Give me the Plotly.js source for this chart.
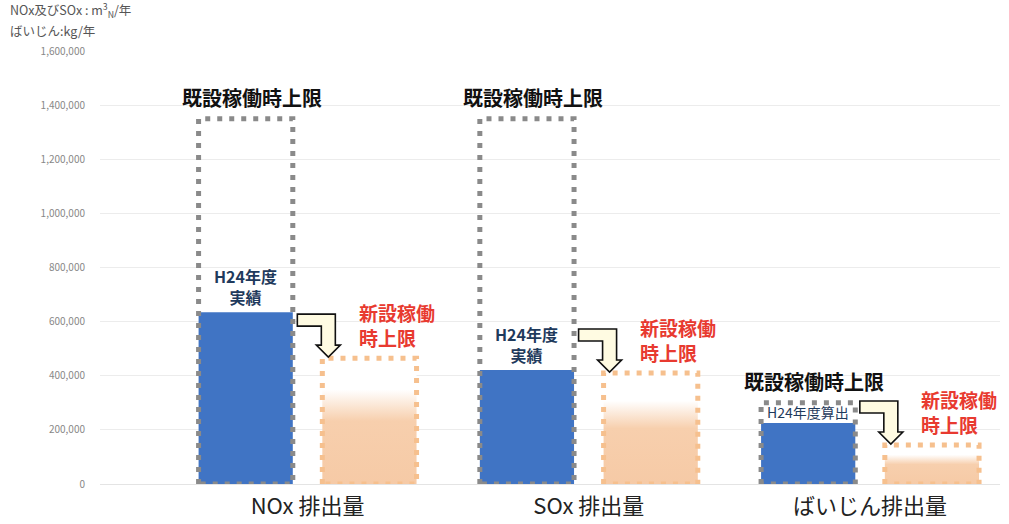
<!DOCTYPE html>
<html>
<head>
<meta charset="utf-8">
<script src="https://cdn.plot.ly/plotly-3.0.1.min.js"></script>
<style>html,body{margin:0;padding:0;background:#fff;}#chart{width:1009px;height:524px;}</style>
</head>
<body>
<div id="chart"></div>
<script>
// ---- data ----
const categories = ['NOx 排出量', 'SOx 排出量', 'ばいじん排出量'];
const existingLimit = [1350000, 1350000, 300000];   // 既設稼働時上限
const actualH24 = [635000, 421000, 225000];          // H24年度実績 / 算出
const newLimit = [465000, 410000, 144000];           // 新設稼働時上限
const existingLabels = ['既設稼働時上限', '既設稼働時上限', '既設稼働時上限'];
const actualLabels = ['H24年度<br>実績', 'H24年度<br>実績', 'H24年度算出'];
const newLabels = ['新設稼働<br>時上限', '新設稼働<br>時上限', '新設稼働<br>時上限'];
const yTickVals = [0, 200000, 400000, 600000, 800000, 1000000, 1200000, 1400000, 1600000];
const unitLines = ['NOx及びSOx : m<sup>3</sup><sub>N</sub>/年', 'ばいじん:kg/年'];

// ---- styling / geometry ----
const FONT = '"Noto Sans CJK JP", "Noto Sans", sans-serif';
const OFF = 0.22, W = 0.335;
const BLUE = '#4074c4', GRAY_DOT = '#8a8a8a', ORANGE_DOT = '#f6c08e', PEACH = '#f6caa6', RED = '#e83a30', NAVY = '#1f3a5c';
const DOTS = '5px,7px';

const idx = categories.map((c, i) => i);
const xA = idx.map(i => i - OFF);
const xB = idx.map(i => i + OFF);

const traces = [];
// blue actual bars
traces.push({
  type: 'bar', x: xA, y: actualH24, width: W,
  marker: {color: BLUE, line: {width: 0}}, hoverinfo: 'skip', showlegend: false
});
// gray dotted existing-limit boxes
idx.forEach(i => {
  const l = xA[i] - W / 2, r = xA[i] + W / 2, t = existingLimit[i];
  traces.push({
    type: 'scatter', mode: 'lines', x: [l, l, r, r, l], y: [0, t, t, 0, 0],
    line: {color: GRAY_DOT, width: 5, dash: DOTS}, hoverinfo: 'skip', showlegend: false
  });
});
// orange new-limit boxes with gradient fill
idx.forEach(i => {
  const l = xB[i] - W / 2, r = xB[i] + W / 2, t = newLimit[i];
  traces.push({
    type: 'scatter', mode: 'lines', x: [l, l, r, r, l], y: [0, t, t, 0, 0],
    fill: 'toself',
    fillgradient: {type: 'vertical', start: 0, stop: t,
      colorscale: [[0, PEACH], [0.5, '#f7cfad'], [0.75, '#ffffff'], [1, '#ffffff']]},
    line: {color: ORANGE_DOT, width: 5, dash: DOTS}, hoverinfo: 'skip', showlegend: false
  });
});

const annotations = [];
idx.forEach(i => {
  annotations.push({
    x: xA[i], y: existingLimit[i], xref: 'x', yref: 'y', text: existingLabels[i],
    showarrow: false, yanchor: 'bottom', yshift: 5, xshift: 6,
    font: {family: FONT, size: 20, color: '#111', weight: 'bold'}
  });
  const big = actualLabels[i].indexOf('<br>') >= 0;
  annotations.push({
    x: xA[i], y: actualH24[i], xref: 'x', yref: 'y', text: actualLabels[i],
    showarrow: false, yanchor: 'bottom', yshift: big ? 1 : -1,
    font: {family: FONT, size: big ? 16 : 14, color: NAVY, weight: big ? 'bold' : 'normal'}
  });
  annotations.push({
    x: xB[i] - 0.045, y: newLimit[i], xref: 'x', yref: 'y', text: newLabels[i],
    showarrow: false, xanchor: 'left', yanchor: 'bottom', yshift: 5, align: 'left',
    font: {family: FONT, size: 19, color: RED, weight: 'bold'}
  });
});
unitLines.forEach((t, k) => {
  annotations.push({
    xref: 'paper', yref: 'paper', x: 0, y: 1, xshift: -92, yshift: 9 + (unitLines.length - 1 - k) * 19,
    xanchor: 'left', yanchor: 'bottom', align: 'left', showarrow: false,
    text: t, font: {family: FONT, size: 12.5, color: '#555'}
  });
});

// bent arrows from existing box to new-limit box
const arrowPath = 'M -25,44 L 13,44 L 13,13 L 18,13 L 6,1 L -6,13 L -1,13 L -1,32 L -25,32 Z';
const shapes = idx.map(i => ({
  type: 'path', xref: 'x', yref: 'y', xsizemode: 'pixel', ysizemode: 'pixel',
  xanchor: xB[i] - W / 2, yanchor: newLimit[i], path: arrowPath,
  fillcolor: '#fffbe2', line: {color: '#111', width: 1.6}, layer: 'above'
}));

const layout = {
  width: 1009, height: 524,
  margin: {l: 100, r: 9, t: 51, b: 40},
  paper_bgcolor: '#fff', plot_bgcolor: '#fff',
  showlegend: false,
  font: {family: FONT},
  xaxis: {
    range: [-0.738, 2.462], tickvals: idx, ticktext: categories,
    showgrid: false, zeroline: false, showline: false, ticks: '',
    ticklabelstandoff: 7,
    tickfont: {family: FONT, size: 22, color: '#222'}
  },
  yaxis: {
    range: [0, 1600000], tickvals: yTickVals, tickformat: ',d',
    showgrid: true, gridcolor: '#ececec', gridwidth: 1,
    zeroline: true, zerolinecolor: '#e4e4e4', zerolinewidth: 1,
    showline: false, ticks: '', ticklabelstandoff: 14,
    tickfont: {family: FONT, size: 10, color: '#888'}
  },
  annotations: annotations,
  shapes: shapes
};

Plotly.newPlot('chart', traces, layout, {displayModeBar: false, staticPlot: true});
</script>
</body>
</html>
